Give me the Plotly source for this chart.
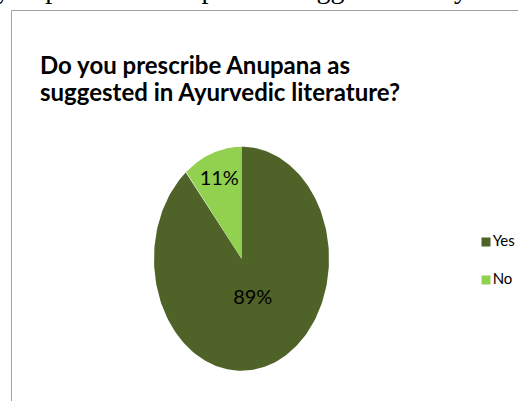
import numpy as np
import plotly.graph_objects as go

# Survey answers
categories = ["Yes", "No"]
shares = [89, 11]
colors = ["#4F6228", "#92D050"]

title_lines = ["Do you prescribe Anupana as", "suggested in Ayurvedic literature?"]
caption_text = "Do you prescribe Anupana as suggested in Ayurvedic literature?"

W, H = 518, 401

fig = go.Figure()

# Pie drawn as filled wedges on a unit circle; the axis ranges stretch it into an ellipse.
total = float(sum(shares))
angle = 90.0  # first slice starts at 12 o'clock and runs clockwise
for name, share, color in zip(categories, shares, colors):
    sweep = share / total * 360.0
    theta = np.radians(np.linspace(angle, angle - sweep, 200))
    xs = np.concatenate([[0.0], np.cos(theta), [0.0]])
    ys = np.concatenate([[0.0], np.sin(theta), [0.0]])
    fig.add_trace(go.Scatter(
        x=xs, y=ys, mode="lines", fill="toself", fillcolor=color,
        line=dict(width=0, color=color), showlegend=False, hoverinfo="skip",
    ))
    mid = np.radians(angle - sweep / 2.0)
    r = 0.75 if share < 50 else 0.38
    fig.add_trace(go.Scatter(
        x=[r * np.cos(mid)], y=[r * np.sin(mid)], mode="text",
        text=[f"{share}%"], textposition="middle center",
        textfont=dict(family="Lato", size=20, color="#000000"),
        showlegend=False, hoverinfo="skip",
    ))
    angle -= sweep

# Legend: one square swatch per category with its name beside it
fig.add_trace(go.Scatter(
    x=[0] * len(categories), y=list(range(len(categories))),
    mode="markers+text", text=categories, textposition="middle right",
    marker=dict(symbol="square", size=9, color=colors, line=dict(width=0)),
    textfont=dict(family="Lato", size=15, color="#000000"),
    xaxis="x2", yaxis="y2", showlegend=False, hoverinfo="skip", cliponaxis=False,
))

# Pie centre at (241.5, 258.7) px, radii 87.5 px wide and 112 px tall
cx, cy, rx, ry = 241.5, 258.7, 87.5, 112.0
xr = [-cx / rx, (W - cx) / rx]
yr = [-(H - cy) / ry, cy / ry]

title_annotations = [
    dict(text="<b>" + line + "</b>", xref="paper", yref="paper",
         x=38 / W, y=1 - top / H, xanchor="left", yanchor="top", align="left",
         showarrow=False, font=dict(family="Lato", size=24, color="#000000"))
    for line, top in zip(title_lines, [48, 75])
]

fig.update_layout(
    width=W, height=H,
    margin=dict(l=0, r=0, t=0, b=0),
    paper_bgcolor="white", plot_bgcolor="white",
    xaxis=dict(range=xr, domain=[0, 1], visible=False, fixedrange=True),
    yaxis=dict(range=yr, domain=[0, 1], visible=False, fixedrange=True),
    xaxis2=dict(range=[0, 1], domain=[486 / W, 1], visible=False, anchor="y2"),
    yaxis2=dict(range=[1.5, -0.5], domain=[1 - 299 / H, 1 - 223 / H],
                visible=False, anchor="x2"),
    shapes=[dict(
        type="rect", xref="paper", yref="paper",
        x0=11.5 / W, x1=1.05, y0=-0.05, y1=1 - 10.5 / H,
        line=dict(color="#a3a3a3", width=1), fillcolor="rgba(0,0,0,0)", layer="below",
    )],
    annotations=[
        dict(text=caption_text, xref="paper", yref="paper",
             x=-47 / W, y=1 + 12 / H, xanchor="left", yanchor="middle",
             showarrow=False, font=dict(family="Liberation Serif", size=28, color="#000000")),
    ] + title_annotations,
)

fig.write_html("out.html")
